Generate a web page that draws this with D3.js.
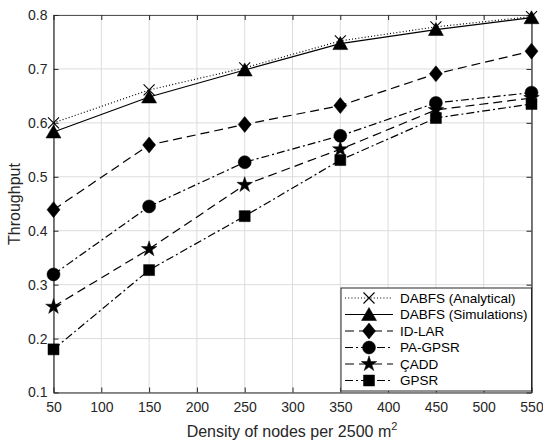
<!DOCTYPE html>
<html><head><meta charset="utf-8">
<script src="https://cdn.jsdelivr.net/npm/d3@7"></script>
<style>body{margin:0;background:#fff}svg{display:block;font-family:"Liberation Sans",Arial,sans-serif}</style>
</head><body><svg id="c" width="543" height="442"></svg>
<script>
const xValues = [50, 150, 250, 350, 450, 550];
const dabfsAnalytical = [0.600, 0.661, 0.702, 0.752, 0.778, 0.797];
const dabfsSimulations = [0.583, 0.648, 0.698, 0.747, 0.773, 0.795];
const idLar = [0.439, 0.559, 0.597, 0.632, 0.691, 0.733];
const paGpsr = [0.319, 0.445, 0.527, 0.576, 0.637, 0.656];
const cadd = [0.259, 0.366, 0.485, 0.551, 0.624, 0.646];
const gpsr = [0.180, 0.327, 0.427, 0.531, 0.609, 0.635];
const seriesNames = ["DABFS (Analytical)", "DABFS (Simulations)", "ID-LAR", "PA-GPSR", "ÇADD", "GPSR"];
const xTicks = [50,100,150,200,250,300,350,400,450,500,550];
const yTicks = [0.1,0.2,0.3,0.4,0.5,0.6,0.7,0.8];

const seriesData = [dabfsAnalytical, dabfsSimulations, idLar, paGpsr, cadd, gpsr];
const styles = [
  {dash:"1,2.2", marker:"x"},
  {dash:null, marker:"tri"},
  {dash:"9,5", marker:"dia"},
  {dash:"8,3,2,3", marker:"circ"},
  {dash:"9,5", marker:"star"},
  {dash:"8,3,2,3", marker:"sq"}
];

const svg = d3.select("#c");
const L=53.5, R=531.5, T=15, B=392.5;
const x = d3.scaleLinear().domain([50,550]).range([L,R]);
const y = d3.scaleLinear().domain([0.1,0.8]).range([B,T]);
const axisColor = "#262626";

// grid
const g = svg.append("g");
g.selectAll(".gx").data(xTicks).enter().append("line")
  .attr("x1",d=>x(d)).attr("x2",d=>x(d)).attr("y1",T).attr("y2",B)
  .attr("stroke","#dcdcdc").attr("stroke-width",1);
g.selectAll(".gy").data(yTicks).enter().append("line")
  .attr("y1",d=>y(d)).attr("y2",d=>y(d)).attr("x1",L).attr("x2",R)
  .attr("stroke","#dcdcdc").attr("stroke-width",1);

// axes
const xa = svg.append("g").attr("transform",`translate(0,${B})`)
  .call(d3.axisBottom(x).tickValues(xTicks).tickSizeInner(-5).tickSizeOuter(0).tickPadding(10).tickFormat(d3.format("d")));
const xt = svg.append("g").attr("transform",`translate(0,${T})`)
  .call(d3.axisTop(x).tickValues(xTicks).tickSizeInner(-5).tickSizeOuter(0).tickFormat(""));
const ya = svg.append("g").attr("transform",`translate(${L},0)`)
  .call(d3.axisLeft(y).tickValues(yTicks).tickSizeInner(-5).tickSizeOuter(0).tickPadding(6).tickFormat(d3.format(".1f")));
const yr = svg.append("g").attr("transform",`translate(${R},0)`)
  .call(d3.axisRight(y).tickValues(yTicks).tickSizeInner(-5).tickSizeOuter(0).tickFormat(""));
[xa,xt,ya,yr].forEach(a=>{
  a.select(".domain").attr("stroke",axisColor).attr("stroke-width",1.2);
  a.selectAll(".tick line").attr("stroke",axisColor);
  a.selectAll("text").attr("fill",axisColor).style("font-size","14px").style("font-family","'Liberation Sans',Arial,sans-serif");
});
xt.select(".domain").attr("stroke","#555");

// markers
function markerPath(type){
  const p = d3.path();
  if(type==="tri"){ p.moveTo(0,-7); p.lineTo(7.5,6); p.lineTo(-7.5,6); p.closePath(); }
  else if(type==="dia"){ p.moveTo(0,-8); p.lineTo(6.5,0); p.lineTo(0,8); p.lineTo(-6.5,0); p.closePath(); }
  else if(type==="sq"){ p.rect(-5.5,-5.5,11,11); }
  else if(type==="circ"){ p.arc(0,0,6.5,0,2*Math.PI); }
  else if(type==="star"){ return d3.symbol().type(d3.symbolStar).size(75)(); }
  else if(type==="x"){ p.moveTo(-5.5,-5.5); p.lineTo(5.5,5.5); p.moveTo(5.5,-5.5); p.lineTo(-5.5,5.5); }
  return p.toString();
}
function drawMarker(sel,type){
  const m = sel.append("path").attr("d",markerPath(type));
  if(type==="x") m.attr("fill","none").attr("stroke","#000").attr("stroke-width",1.1);
  else m.attr("fill","#000").attr("stroke","#000").attr("stroke-width",0.5);
  return m;
}

const line = d3.line().x((d,i)=>x(xValues[i])).y(d=>y(d));
const plot = svg.append("g");
seriesData.forEach((s,k)=>{
  plot.append("path").datum(s).attr("d",line).attr("fill","none")
    .attr("stroke","#000").attr("stroke-width",1.2)
    .attr("stroke-dasharray",styles[k].dash);
});
seriesData.forEach((s,k)=>{
  s.forEach((v,i)=>{
    const gg = plot.append("g").attr("transform",`translate(${x(xValues[i])},${y(v)})`);
    drawMarker(gg,styles[k].marker);
  });
});

// legend
const lg = svg.append("g");
lg.append("rect").attr("x",341).attr("y",288).attr("width",R-341).attr("height",391-288)
  .attr("fill","#fff").attr("stroke","#262626").attr("stroke-width",1);
seriesNames.forEach((n,k)=>{
  const yy = 298 + k*16.5;
  lg.append("line").attr("x1",345).attr("x2",393).attr("y1",yy).attr("y2",yy)
    .attr("stroke","#000").attr("stroke-width",1.2).attr("stroke-dasharray",styles[k].dash);
  const mg = lg.append("g").attr("transform",`translate(369,${yy})`);
  drawMarker(mg,styles[k].marker);
  lg.append("text").attr("x",400).attr("y",yy+4.8).text(n)
    .attr("fill","#000").style("font-size","13.5px");
});

// labels
svg.append("text").attr("transform","translate(20,204) rotate(-90)")
  .attr("text-anchor","middle").attr("fill",axisColor).style("font-size","16px").text("Throughput");
const xl = svg.append("text").attr("x",292).attr("y",437).attr("text-anchor","middle")
  .attr("fill",axisColor).style("font-size","16px");
xl.append("tspan").text("Density of nodes per 2500 m");
xl.append("tspan").attr("dy",-7).style("font-size","11px").text("2");
</script></body></html>
